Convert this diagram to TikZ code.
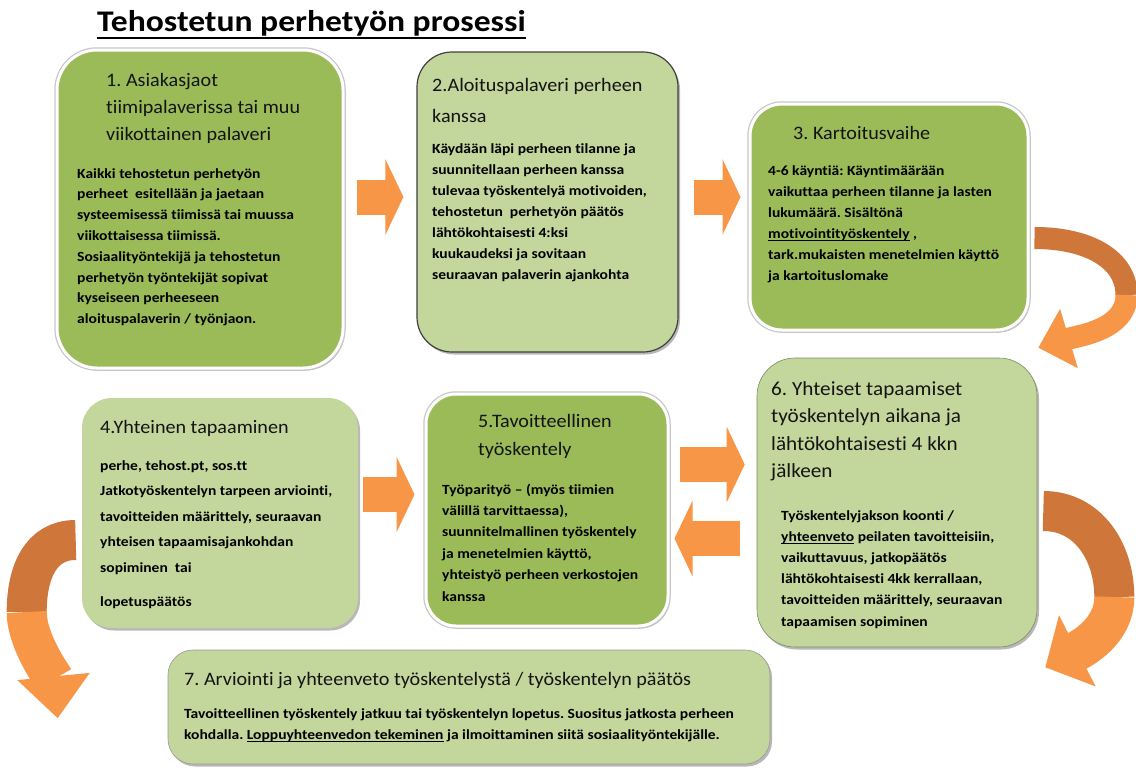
\documentclass[tikz,border=0pt]{standalone}
\usepackage{fontspec}
\setmainfont{Carlito}
\newfontfamily\headf[FakeStretch=1.06,Ligatures=NoCommon]{Carlito}
\newfontfamily\bodyf[FakeStretch=1.11,Ligatures=NoCommon]{Carlito}
\newfontfamily\titlef[FakeStretch=1.12,Ligatures=NoCommon]{Carlito}
\usetikzlibrary{shadows,arrows.meta,calc}
\frenchspacing
\definecolor{dgreen}{HTML}{9BBB59}
\definecolor{lgreen}{HTML}{C3D69B}
\definecolor{orng}{HTML}{F79646}
\definecolor{dorng}{HTML}{CF763A}
\definecolor{txtc}{HTML}{141414}
\newcommand\myul[1]{\leavevmode\setbox0\hbox{#1}\rlap{\rule[-2.6pt]{\wd0}{0.9pt}}\box0\relax}
\newcommand\titleul[1]{\leavevmode\setbox0\hbox{#1}\rlap{\rule[-8pt]{\wd0}{2pt}}\box0\relax}
\tikzset{
  shad/.style={drop shadow={shadow xshift=2pt, shadow yshift=-2.5pt, opacity=0.28, fill=black}},
  darkbox/.style={rectangle, rounded corners=#1, shad, fill=dgreen,
     preaction={draw=black!22, line width=5.5pt}, draw=white, line width=3pt, inner sep=0pt},
  lightbox/.style={rectangle, rounded corners=#1, shad, fill=lgreen,
     draw=lgreen!65!black, line width=0.6pt, inner sep=0pt},
  headtxt/.style={anchor=base west, inner sep=0pt, text=txtc, font={\headf\fontsize{19}{#1}\selectfont}},
  bodytxt/.style={anchor=base west, inner sep=0pt, text=black, font={\bodyf\bfseries\fontsize{14}{#1}\selectfont}},
  barrow/.style={draw=orng, line width=35pt, -{Triangle[width=75pt,length=18pt]}},
  carrowA/.style={draw=dorng, line width=#1},
  carrowB/.style={draw=orng, line width=#1},
}
\begin{document}
\begin{tikzpicture}[x=1pt,y=-1pt]
\useasboundingbox[fill=white] (0,0) rectangle (1136,769);

% title
\node[anchor=base west, inner sep=0pt, font={\titlef\bfseries\fontsize{30}{34}\selectfont}] (title) at (97,31) {\titleul{Tehostetun perhetyön prosessi}};

% boxes
\node[darkbox=40pt, minimum width=286pt, minimum height=318pt] (b1) at (200,209) {};
\node[lightbox=35pt, draw=black!75, line width=1.2pt, minimum width=261pt, minimum height=300pt] (b2) at (547.5,202) {};
\node[darkbox=32pt, minimum width=278pt, minimum height=226pt] (b3) at (889,217) {};
\node[lightbox=30pt, draw=none, minimum width=276pt, minimum height=230pt] (b4) at (220,513) {};
\node[darkbox=30pt, minimum width=242pt, minimum height=232pt] (b5) at (547,510) {};
\node[lightbox=38pt, minimum width=280pt, minimum height=289pt] (b6) at (897,502.5) {};
\node[lightbox=25pt, draw=black!40, minimum width=602pt, minimum height=114pt] (b7) at (469,707) {};

% texts
\node[headtxt=27] (h1) at (106,86) {\begin{tabular}[t]{@{}l@{}}1. Asiakasjaot\\tiimipalaverissa tai muu\\viikottainen palaveri\end{tabular}};
\node[bodytxt=20.8] (t1) at (77,178) {\begin{tabular}[t]{@{}l@{}}Kaikki tehostetun perhetyön\\perheet\ \ esitellään ja jaetaan\\systeemisessä tiimissä tai muussa\\viikottaisessa tiimissä.\\Sosiaalityöntekijä ja tehostetun\\perhetyön työntekijät sopivat\\kyseiseen perheeseen\\aloituspalaverin / työnjaon.\end{tabular}};

\node[headtxt=31] (h2) at (432,91) {\begin{tabular}[t]{@{}l@{}}2.Aloituspalaveri perheen\\kanssa\end{tabular}};
\node[bodytxt=21] (t2) at (432,153) {\begin{tabular}[t]{@{}l@{}}Käydään läpi perheen tilanne ja\\suunnitellaan perheen kanssa\\tulevaa työskentelyä motivoiden,\\tehostetun\ \ perhetyön päätös\\lähtökohtaisesti 4:ksi\\kuukaudeksi ja sovitaan\\seuraavan palaverin ajankohta\end{tabular}};

\node[headtxt=25] (h3) at (793,139) {3. Kartoitusvaihe};
\node[bodytxt=21] (t3) at (768,175) {\begin{tabular}[t]{@{}l@{}}4-6 käyntiä: Käyntimäärään\\vaikuttaa perheen tilanne ja lasten\\lukumäärä. Sisältönä\\\myul{motivointityöskentely} ,\\tark.mukaisten menetelmien käyttö\\ja kartoituslomake\end{tabular}};

\node[headtxt=25] (h4) at (100,433) {4.Yhteinen tapaaminen};
\node[bodytxt=25.5] (t4) at (100,470) {\begin{tabular}[t]{@{}l@{}}perhe, tehost.pt, sos.tt\\Jatkotyöskentelyn tarpeen arviointi,\\tavoitteiden määrittely, seuraavan\\yhteisen tapaamisajankohdan\\sopiminen\ \ tai\\[9pt]lopetuspäätös\end{tabular}};

\node[headtxt=28] (h5) at (478,427) {\begin{tabular}[t]{@{}l@{}}5.Tavoitteellinen\\työskentely\end{tabular}};
\node[bodytxt=21.4] (t5) at (442,494) {\begin{tabular}[t]{@{}l@{}}Työparityö – (myös tiimien\\välillä tarvittaessa),\\suunnitelmallinen työskentely\\ja menetelmien käyttö,\\yhteistyö perheen verkostojen\\kanssa\end{tabular}};

\node[headtxt=27.5, font={\headf\fontsize{20}{27.5}\selectfont}] (h6) at (771,395) {\begin{tabular}[t]{@{}l@{}}6. Yhteiset tapaamiset\\työskentelyn aikana ja\\lähtökohtaisesti 4 kkn\\jälkeen\end{tabular}};
\node[bodytxt=21.2] (t6) at (781,520) {\begin{tabular}[t]{@{}l@{}}Työskentelyjakson koonti /\\\myul{yhteenveto} peilaten tavoitteisiin,\\vaikuttavuus, jatkopäätös\\lähtökohtaisesti 4kk kerrallaan,\\tavoitteiden määrittely, seuraavan\\tapaamisen sopiminen\end{tabular}};

\node[headtxt=25] (h7) at (184,685) {7. Arviointi ja yhteenveto työskentelystä / työskentelyn päätös};
\node[bodytxt=21] (t7) at (184,718) {\begin{tabular}[t]{@{}l@{}}Tavoitteellinen työskentely jatkuu tai työskentelyn lopetus. Suositus jatkosta perheen\\kohdalla. \myul{Loppuyhteenvedon tekeminen} ja ilmoittaminen siitä sosiaalityöntekijälle.\end{tabular}};

% straight arrows
\draw[barrow] ($(b1.east)+(12,-12)$) -- ($(b2.west)+(-13,-5)$);
\draw[barrow] ($(b2.east)+(15,-5)$) -- ($(b3.west)+(-8,-20)$);
\draw[barrow] ($(b4.east)+(5,-18.5)$) -- ($(b5.west)+(-10,-15.5)$);
\draw[barrow] ($(b5.east)+(10,-45.5)$) -- ($(b6.west)+(-12,-38)$);
\draw[barrow] ($(b6.west)+(-17,36)$) -- ($(b5.east)+(5,28.5)$);

% curved arrows
\coordinate (s36) at ($(b3.east)+(5,21)$);
\coordinate (m36) at ($(b3.east)+(97,78)$);
\coordinate (e36) at ($(b6.north east)+(1,-10)$);
\draw[carrowA=22pt] (s36) .. controls +(55,0) and +(0,-35) .. (m36);
\draw[carrowB=22pt, -{Triangle[width=60pt,length=32pt]}] (m36) .. controls +(0,35) and +(40,-12) .. (e36);

\coordinate (s67) at ($(b6.east)+(6,8.5)$);
\coordinate (m67) at ($(b6.east)+(77,94.5)$);
\coordinate (e67) at ($(b6.south east)+(8,20)$);
\draw[carrowA=40pt] (s67) .. controls +(45,0) and +(0,-45) .. (m67);
\draw[carrowB=40pt, -{Triangle[width=78pt,length=36pt]}] (m67) .. controls +(0,35) and +(35,-18) .. (e67);

\coordinate (s47) at ($(b4.west)+(-6,27)$);
\coordinate (m47) at ($(b4.west)+(-55,99)$);
\coordinate (e47) at ($(b4.south west)+(-24,90)$);
\draw[carrowA=40pt] (s47) .. controls +(-35,0) and +(0,-40) .. (m47);
\draw[carrowB=40pt, -{Triangle[width=70pt,length=42pt]}] (m47) .. controls +(0,30) and +(-4,-40) .. (e47);
\end{tikzpicture}
\end{document}
